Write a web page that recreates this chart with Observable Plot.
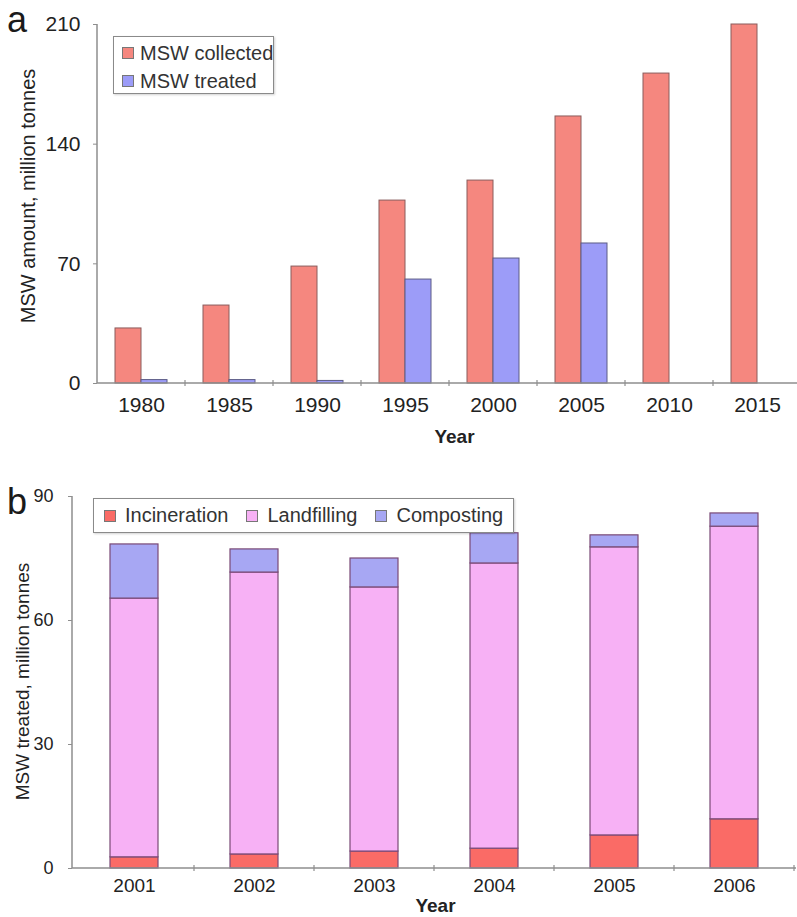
<!DOCTYPE html>
<html>
<head>
<meta charset="utf-8">
<script src="https://cdn.jsdelivr.net/npm/d3@7"></script>
<script src="https://cdn.jsdelivr.net/npm/@observablehq/plot@0.6"></script>
<style>
  body { margin: 0; background: #fff; }
  #wrap { position: relative; width: 797px; height: 917px; overflow: hidden;
          font-family: "Liberation Sans", Arial, sans-serif; }
  .panel { position: absolute; left: 0; }
  .letter { position: absolute; font-size: 36px; line-height: 36px; color: #1a1a1a; }
  .legend { position: absolute; border: 1px solid #8a8a8a; background: #fff;
            box-shadow: 1px 1px 2px rgba(0,0,0,0.18); color: #333; font-size: 20px; box-sizing: border-box; }
  .item { position: absolute; display: flex; align-items: center; white-space: nowrap; line-height: 20px; }
  .sw { display: inline-block; width: 10px; height: 10px; border: 1px solid #777; margin-right: 6px; }
  .legendB { display: flex; align-items: center; padding-left: 10px; }
  .legendB .it { display: flex; align-items: center; margin-right: 18px; white-space: nowrap; }
  .legendB .sw { margin-right: 9px; }
</style>
</head>
<body>
<div id="wrap"></div>
<script>
// ---------- Panel a data ----------
const yearsA = ["1980", "1985", "1990", "1995", "2000", "2005", "2010", "2015"];
const collected = [32.2, 45.6, 68.4, 107.0, 118.7, 156.2, 181.3, 210.0];
const treated = [2.0, 2.0, 1.5, 60.8, 73.1, 81.9, null, null];
const seriesA = ["MSW collected", "MSW treated"];
const colorsA = ["#f5877f", "#9c9cf8"];
const yTicksA = [0, 70, 140, 210];
const yLabelA = "MSW amount, million tonnes";

// ---------- Panel b data ----------
const yearsB = ["2001", "2002", "2003", "2004", "2005", "2006"];
const incineration = [2.7, 3.4, 4.1, 4.8, 8.0, 11.9];
const landfilling = [62.6, 68.2, 63.9, 69.0, 69.7, 70.8];
const composting = [13.1, 5.6, 7.0, 7.3, 2.9, 3.2];
const seriesB = ["Incineration", "Landfilling", "Composting"];
const colorsB = ["#fa6b66", "#f7b1f5", "#a7a7f3"];
const yTicksB = [0, 30, 60, 90];
const yLabelB = "MSW treated, million tonnes";
const xLabel = "Year";

const FONT = '"Liberation Sans", Arial, sans-serif';

// axis lines + between-category tick marks drawn from the scales
function axisLines(index, scales, values, dim) {
  const g = d3.create("svg:g").attr("stroke", "#8e8e8e").attr("fill", "none");
  const x0 = dim.marginLeft, x1 = dim.width - dim.marginRight;
  const yb = dim.height - dim.marginBottom, yt = dim.marginTop;
  g.append("line").attr("x1", x0).attr("x2", x0).attr("y1", yt).attr("y2", yb).attr("stroke-width", 1.5);
  g.append("line").attr("x1", x0).attr("x2", x1).attr("y1", yb).attr("y2", yb).attr("stroke-width", 1.5);
  const xs = scales.x;
  const dom = xs.domain();
  const bounds = dom.map(d => xs(d));
  bounds.push(xs(dom[dom.length - 1]) + xs.bandwidth());
  bounds.forEach(bx => {
    if (bx > x0 + 2 && bx < x1 + 0.5)
      g.append("line").attr("x1", bx).attr("x2", bx).attr("y1", yb - 3).attr("y2", yb + 3).attr("stroke-width", 1.2);
  });
  return g.node();
}

const wrap = document.getElementById("wrap");

// ---------- Panel a ----------
const rowsCollected = yearsA.map((y, i) => ({year: y, series: seriesA[0], value: collected[i]}));
const rowsTreated = yearsA.map((y, i) => ({year: y, series: seriesA[1], value: treated[i]})).filter(d => d.value != null);

const plotA = Plot.plot({
  width: 797, height: 450,
  marginLeft: 97, marginRight: 0, marginTop: 24, marginBottom: 67,
  style: {fontFamily: FONT, fontSize: "21px", color: "#222", background: "transparent"},
  x: {type: "band", domain: yearsA, range: [97, 801], padding: 0, label: null},
  y: {domain: [0, 210], label: null},
  color: {domain: seriesA, range: colorsA},
  marks: [
    Plot.barY(rowsCollected, {x: "year", y: "value", fill: "series", stroke: "#8a5c5c", strokeWidth: 1, insetLeft: 18, insetRight: 44}),
    Plot.barY(rowsTreated, {x: "year", y: "value", fill: "series", stroke: "#5c5c86", strokeWidth: 1, insetLeft: 44, insetRight: 18}),
    Plot.axisY({ticks: yTicksA, tickSize: 4, tickPadding: 13, stroke: "#8e8e8e", label: null, fontSize: 21}),
    Plot.axisX({tickSize: 0, tickPadding: 14, label: null, fontSize: 21}),
    axisLines,
    Plot.text([yLabelA], {text: d => d, frameAnchor: "left", textAnchor: "middle", lineAnchor: "middle", rotate: -90, dx: -69, dy: -8, fontSize: 20, fill: "#222"}),
    Plot.text([xLabel], {text: d => d, frameAnchor: "bottom", textAnchor: "middle", lineAnchor: "middle", dx: 7, dy: 53, fontSize: 19, fontWeight: "bold", fill: "#222"})
  ]
});
plotA.classList.add("panel");
plotA.style.top = "0px";
wrap.appendChild(plotA);

// ---------- Panel b ----------
const rowsB = [];
yearsB.forEach((y, i) => {
  rowsB.push({year: y, type: seriesB[0], value: incineration[i]});
  rowsB.push({year: y, type: seriesB[1], value: landfilling[i]});
  rowsB.push({year: y, type: seriesB[2], value: composting[i]});
});

const plotB = Plot.plot({
  width: 797, height: 467,
  marginLeft: 72, marginRight: 1, marginTop: 46, marginBottom: 49,
  style: {fontFamily: FONT, fontSize: "19px", color: "#222", background: "transparent"},
  x: {type: "band", domain: yearsB, range: [72, 796], padding: 0, label: null},
  y: {domain: [0, 90], label: null},
  color: {domain: seriesB, range: colorsB},
  marks: [
    Plot.barY(rowsB, {x: "year", y: "value", fill: "type", stroke: "#7a4a76", strokeWidth: 1.2, insetLeft: 36, insetRight: 36}),
    Plot.axisY({ticks: yTicksB, tickSize: 4, tickPadding: 15, stroke: "#8e8e8e", label: null, fontSize: 18}),
    Plot.axisX({tickSize: 0, tickPadding: 10, label: null, fontSize: 19}),
    axisLines,
    Plot.text([yLabelB], {text: d => d, frameAnchor: "left", textAnchor: "middle", lineAnchor: "middle", rotate: -90, dx: -50, dy: -1, fontSize: 19, fill: "#222"}),
    Plot.text([xLabel], {text: d => d, frameAnchor: "bottom", textAnchor: "middle", lineAnchor: "middle", dx: 1, dy: 37, fontSize: 19, fontWeight: "bold", fill: "#222"})
  ]
});
plotB.classList.add("panel");
plotB.style.top = "450px";
wrap.appendChild(plotB);

// ---------- Panel letters ----------
[["a", 7, 2], ["b", 7, 484]].forEach(([t, l, tp]) => {
  const d = document.createElement("div");
  d.className = "letter"; d.textContent = t;
  d.style.left = l + "px"; d.style.top = tp + "px";
  wrap.appendChild(d);
});

// ---------- Legend a ----------
const legA = document.createElement("div");
legA.className = "legend";
Object.assign(legA.style, {left: "113px", top: "36px", width: "161px", height: "58px"});
seriesA.forEach((s, i) => {
  const it = document.createElement("div");
  it.className = "item";
  it.style.left = "8px"; it.style.top = (6 + i * 28) + "px";
  it.innerHTML = `<span class="sw" style="background:${colorsA[i]}"></span><span>${s}</span>`;
  legA.appendChild(it);
});
wrap.appendChild(legA);

// ---------- Legend b ----------
const legB = document.createElement("div");
legB.className = "legend legendB";
Object.assign(legB.style, {left: "93px", top: "498px", width: "421px", height: "35px"});
seriesB.forEach((s, i) => {
  const it = document.createElement("div");
  it.className = "it";
  it.innerHTML = `<span class="sw" style="background:${colorsB[i]}"></span><span>${s}</span>`;
  legB.appendChild(it);
});
wrap.appendChild(legB);
</script>
</body>
</html>
